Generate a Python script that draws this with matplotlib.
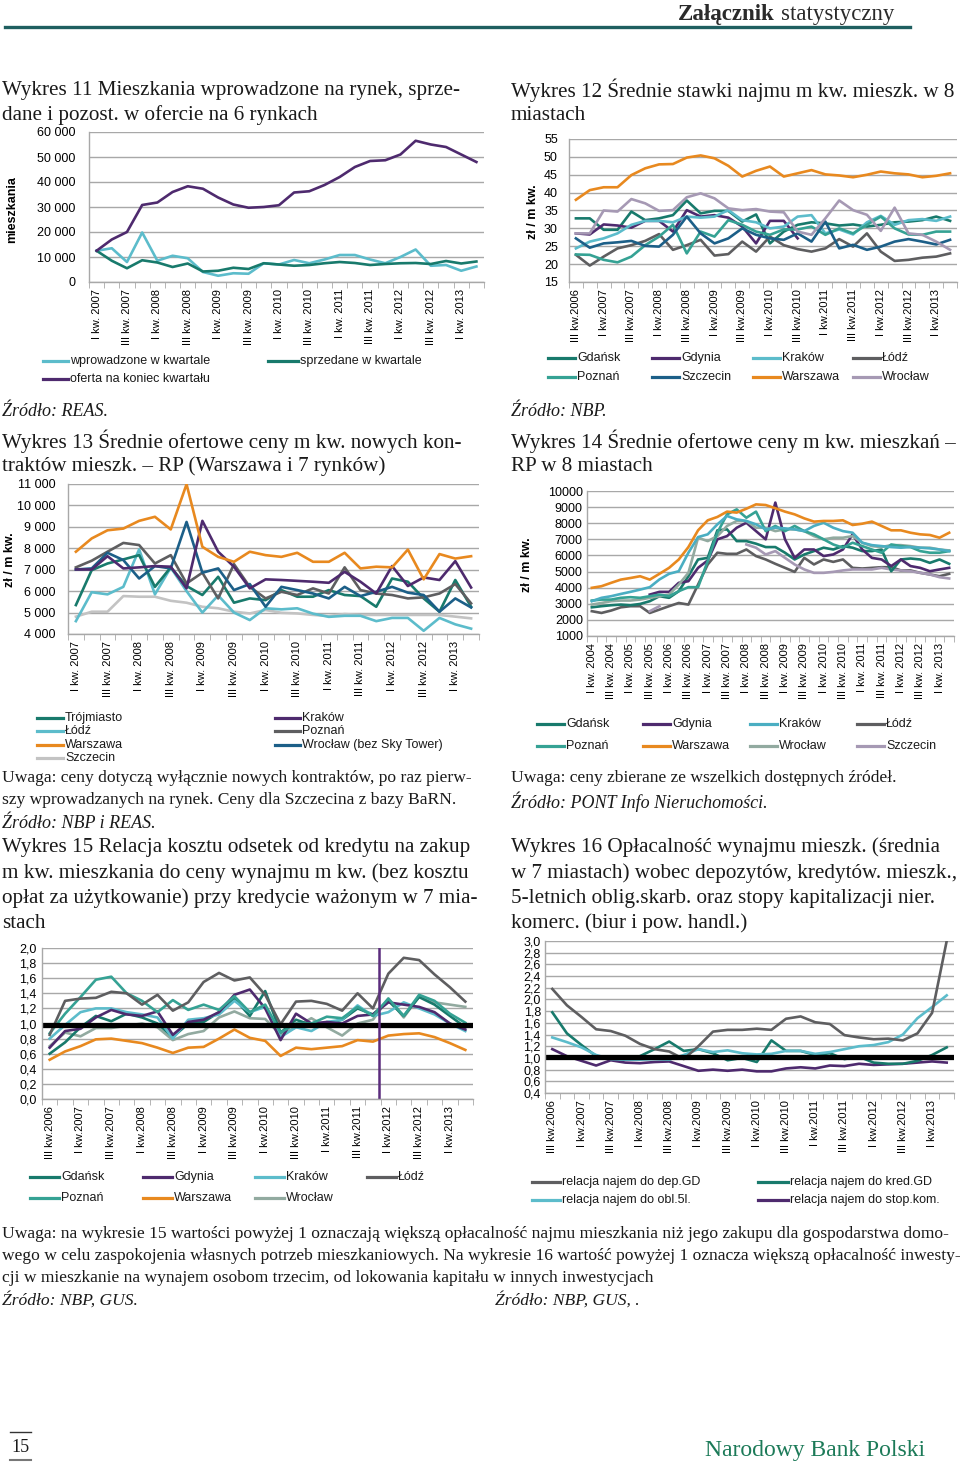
import numpy as np
import matplotlib
matplotlib.use('Agg')
import matplotlib.pyplot as plt
from matplotlib.lines import Line2D

nan = np.nan

# ---------------- Wykres 11 (I kw. 2007 - II kw. 2013) ----------------
w11_labels = ['I kw. 2007', 'III kw. 2007', 'I kw. 2008', 'III kw. 2008', 'I kw. 2009',
              'III kw. 2009', 'I kw. 2010', 'III kw. 2010', 'I kw. 2011', 'III kw. 2011',
              'I kw. 2012', 'III kw. 2012', 'I kw. 2013']
w11_wprowadzone = [12500, 13500, 8000, 19800, 8500, 10500, 9500, 4000, 2500, 3500, 3300, 7500, 7000,
                   8800, 7500, 9000, 10800, 10800, 9000, 7500, 10000, 13000, 6500, 6800, 4500, 6200]
w11_sprzedane = [12500, 8500, 5500, 8700, 7800, 6000, 7400, 4200, 4500, 5700, 5200, 7500, 7000,
                 6500, 6800, 7500, 8000, 7600, 6800, 7200, 7500, 7600, 7200, 8400, 7400, 8200]
w11_oferta = [12500, 17000, 20000, 30800, 31800, 36000, 38300, 37300, 33800, 31000, 29700, 30000, 30700,
              35800, 36300, 38800, 42000, 46000, 48400, 48700, 51000, 56500, 55000, 54000, 51000, 48000]

# ---------------- Wykres 12 (III kw. 2006 - II kw. 2013) ----------------
w12_labels = ['III kw.2006', 'I kw.2007', 'III kw.2007', 'I kw.2008', 'III kw.2008', 'I kw.2009',
              'III kw.2009', 'I kw.2010', 'III kw.2010', 'I kw.2011', 'III kw.2011', 'I kw.2012',
              'III kw.2012', 'I kw.2013']
w12_gdansk = [32.8, 32.8, 29.6, 29.6, 34.7, 32.3, 32.8, 33.7, 37.8, 34.2, 34.9, 34.9, 31.9, 33.9,
              25.8, 29.1, 31.0, 31.7, 31.4, 30.8, 31.1, 30.5, 31.0, 31.7, 31.9, 32.3, 33.3, 32.1]
w12_gdynia = [28.6, 28.3, 31.1, 30.8, 30.2, 32.1, 32.1, 29.1, 35.1, 33.3, 33.7, 33.0, 30.5, 25.8,
              32.1, 32.1, 27.2, nan, nan, nan, nan, nan, nan, nan, nan, nan, nan, nan]
w12_krakow = [24.4, 26.3, 27.2, 28.6, 31.0, 32.1, 32.1, 31.7, 33.3, 33.0, 33.3, 35.1, 32.3, 31.7,
              30.0, 30.5, 33.3, 33.7, 28.6, 29.7, 28.3, 31.7, 33.5, 31.0, 32.3, 32.6, 32.1, 33.3]
w12_lodz = [22.6, 19.6, 22.1, 24.4, 25.3, 26.5, 28.4, 24.0, 25.3, 26.8, 22.4, 22.8, 26.3, 23.5,
            27.7, 25.3, 24.2, 23.5, 24.4, 27.0, 24.9, 28.6, 23.5, 20.9, 21.2, 21.8, 22.1, 23.0]
w12_poznan = [22.7, 22.6, 21.2, 20.5, 22.1, 25.3, 27.7, 31.0, 23.0, 29.1, 27.7, 32.3, 31.0, 29.1,
              28.2, 29.7, 29.7, 30.5, 28.2, 30.0, 28.6, 31.0, 33.3, 30.0, 28.3, 28.2, 29.1, 29.1]
w12_szczecin = [27.2, 24.6, 25.8, 26.1, 26.5, 25.1, 24.9, 28.2, 33.3, 28.6, 25.8, 27.2, 30.0, 28.2,
                27.2, 26.8, 28.6, 26.3, 31.9, 24.4, 25.4, 24.0, 24.9, 26.3, 27.0, 26.3, 25.5, 26.8]
w12_warszawa = [38.0, 40.7, 41.5, 41.5, 44.9, 46.8, 47.9, 48.0, 49.8, 50.4, 49.6, 47.5, 44.5, 46.1,
                47.3, 44.5, 45.4, 46.3, 45.1, 44.8, 44.3, 45.0, 45.9, 45.4, 45.1, 44.3, 44.7, 45.4]
w12_wroclaw = [28.6, 28.6, 35.0, 34.7, 38.2, 37.0, 34.9, 35.1, 38.7, 39.8, 38.4, 35.6, 35.1, 35.4,
               34.7, 34.5, 29.1, 28.2, 32.8, 37.8, 35.1, 33.8, 29.3, 35.8, 28.6, 28.2, 26.3, 24.0]

# ---------------- Wykres 13 (I kw. 2007 - II kw. 2013) ----------------
w13_labels = w11_labels
w13_trojmiasto = [5350, 6980, 7290, 7480, 7680, 6200, 7110, 6240, 5820, 6670, 5460, 5660, 5580,
                  6050, 5740, 5740, 6050, 5820, 5770, 5270, 6590, 6440, 5660, 5040, 6520, 5270]
w13_krakow = [7010, 7010, 7630, 7060, 7110, 7170, 7140, 6130, 9280, 7840, 7140, 6130, 6550,
              6520, 6480, 6440, 6390, 6900, 6440, 5890, 7170, 6240, 6640, 6520, 7400, 6170]
w13_lodz = [4600, 5950, 5850, 6200, 7950, 5850, 7100, 6000, 5000, 5800, 5000, 4650, 5200,
            5150, 5200, 4950, 4800, 4850, 4850, 4600, 4750, 4750, 4150, 4750, 4450, 4250]
w13_poznan = [7110, 7420, 7840, 8250, 8150, 7290, 7680, 6360, 6860, 5660, 7260, 6200, 5660,
              5970, 5820, 6130, 5890, 7110, 6050, 5890, 5820, 5660, 5710, 5890, 6330, 5430]
w13_warszawa = [7840, 8460, 8840, 8920, 9280, 9470, 8880, 10990, 8070, 7600, 7370, 7840, 7680,
                7600, 7790, 7370, 7370, 7790, 7060, 7140, 7110, 7940, 6550, 7730, 7520, 7630]
w13_wroclaw = [7010, 7060, 7790, 7450, 6590, 7170, 7060, 9230, 6860, 7060, 6050, 6330, 5270,
               6200, 6050, 5890, 5660, 6200, 5770, 5970, 6200, 5930, 5820, 5040, 5660, 5240]
w13_szczecin = [4810, 5040, 5040, 5770, 5740, 5740, 5550, 5460, 5270, 5200, 5040, 4960, 5120,
                4990, 4960, 4890, 4840, 4930, 4890, 4890, 4890, 4890, 4890, 4890, 4810, 4730]

# ---------------- Wykres 14 (I kw. 2004 - II kw. 2013) ----------------
w14_labels = ['I kw. 2004', 'III kw. 2004', 'I kw. 2005', 'III kw. 2005', 'I kw. 2006', 'III kw. 2006',
              'I kw. 2007', 'III kw. 2007', 'I kw. 2008', 'III kw. 2008', 'I kw. 2009', 'III kw. 2009',
              'I kw. 2010', 'III kw. 2010', 'I kw. 2011', 'III kw. 2011', 'I kw. 2012', 'III kw. 2012',
              'I kw. 2013']
w14_gdansk = [2780, 2850, 2910, 2950, 2910, 2990, 3160, 3470, 3370, 3780, 4710, 5750, 5850, 7560, 7620,
              6890, 6890, 6730, 6520, 6520, 6170, 5750, 6060, 6270, 6480, 6370, 6580, 6480, 6270, 6270,
              6370, 5020, 5750, 5810, 5750, 5540, 5750, 5480]
w14_gdynia = [nan, nan, nan, nan, nan, nan, 3570, 3740, 3740, 4300, 4400, 5230, 5690, 7000, 7200,
              7720, 8030, 7510, 7000, 9280, 7000, 5850, 6370, 6370, 5960, 6060, 6370, 7310, 6370, 5850,
              5750, 5340, 5750, 5340, 5230, 5020, 5130, 5230]
w14_krakow = [3160, 3370, 3470, 3610, 3740, 3880, 4030, 4510, 4860, 5020, 6170, 7140, 7310, 7930, 8450,
              8240, 8140, 7930, 7620, 7720, 7680, 7620, 7510, 7830, 8030, 7720, 7510, 7410, 6790, 6640,
              6580, 6520, 6480, 6520, 6480, 6440, 6370, 6270]
w14_lodz = [2540, 2430, 2580, 2780, 2850, 2850, 2430, 2640, 2850, 3050, 2950, 4190, 5440, 6170, 6100,
            6100, 6370, 5960, 5750, 5480, 5230, 4980, 5850, 5440, 5750, 5600, 5750, 5230, 5190, 5230,
            5270, 5270, 5070, 5070, 4920, 4820, 4710, 4860]
w14_poznan = [3200, 3260, 3260, 3370, 3410, 3370, 3470, 3570, 3470, 3780, 4030, 4030, 5650, 7410, 8550,
              8860, 8340, 8720, 7510, 7830, 7510, 7830, 7510, 7310, 7000, 6680, 6480, 6790, 6580, 6370,
              6170, 6680, 6580, 6520, 6270, 6170, 6170, 6270]
w14_warszawa = [3990, 4090, 4300, 4500, 4600, 4710, 4500, 4860, 5230, 5750, 6520, 7560, 8180, 8390, 8720,
                8660, 8900, 9170, 9130, 8930, 8720, 8550, 8300, 8100, 8140, 8140, 8180, 7890, 7970, 8100,
                7830, 7560, 7560, 7410, 7310, 7270, 7100, 7410]
w14_wroclaw = [2950, 3050, 3160, 3200, 3200, 3260, 3370, 3470, 3570, 4190, 4920, 7100, 6890, 7200, 7830,
               8140, 8140, 7720, 7720, 7510, 7620, 7620, 7510, 7200, 7000, 7100, 7100, 7200, 6790, 6580,
               6520, 6640, 6640, 6580, 6480, 6480, 6370, 6310]
w14_szczecin = [nan, nan, nan, nan, nan, nan, 2540, 2850, nan, nan, nan, nan, nan, nan, nan, nan,
                6680, 6480, 6060, 6270, 5850, 5440, 5130, 4920, 4920, 4980, 5070, 5130, 5130, 5130,
                5230, 5130, 5070, 5020, 4920, 4820, 4650, 4570]

# ---------------- Wykres 15 (III kw. 2006 - II kw. 2013) ----------------
w15_labels = w12_labels
w15_gdansk = [0.60, 0.75, 0.95, 1.10, 1.03, 1.13, 1.08, 1.00, 0.82, 1.00, 1.02, 1.15, 1.33, 1.10,
              1.43, 0.88, 1.05, 0.98, 1.00, 1.05, 1.20, 1.12, 1.30, 1.10, 1.35, 1.25, 1.10, 0.95]
w15_gdynia = [0.68, 0.90, 0.93, 1.08, 1.18, 1.12, 1.10, 1.16, 0.85, 1.02, 1.05, 1.15, 1.38, 1.45,
              1.20, 0.78, 1.13, 1.00, 1.02, 1.00, 1.10, 1.12, 1.28, 1.25, 1.22, 1.15, 1.00, 0.92]
w15_krakow = [0.80, 0.98, 1.15, 1.20, 1.20, 1.15, 1.12, 1.08, 0.80, 1.05, 1.07, 1.12, 1.30, 1.15,
              1.22, 0.82, 0.95, 0.90, 1.02, 1.05, 1.24, 1.10, 1.15, 1.28, 1.20, 1.12, 1.00, 0.90]
w15_lodz = [0.85, 1.30, 1.33, 1.34, 1.42, 1.40, 1.25, 1.38, 1.17, 1.28, 1.55, 1.67, 1.57, 1.61,
            1.38, 0.99, 1.29, 1.30, 1.26, 1.17, 1.40, 1.20, 1.66, 1.87, 1.84, 1.65, 1.48, 1.29]
w15_poznan = [0.87, 1.13, 1.35, 1.58, 1.62, 1.40, 1.30, 1.15, 1.31, 1.18, 1.25, 1.18, 1.36, 1.15,
              1.25, 0.88, 1.00, 1.00, 1.09, 1.07, 1.22, 1.10, 1.33, 1.10, 1.38, 1.30, 1.13, 1.01]
w15_warszawa = [0.52, 0.63, 0.70, 0.79, 0.80, 0.77, 0.74, 0.68, 0.61, 0.68, 0.69, 0.80, 0.92, 0.81,
                0.77, 0.57, 0.68, 0.66, 0.68, 0.70, 0.78, 0.76, 0.84, 0.86, 0.87, 0.82, 0.74, 0.65]
w15_wroclaw = [0.70, 0.88, 0.83, 0.94, 0.94, 0.97, 1.00, 0.95, 0.78, 0.86, 0.90, 1.08, 1.16, 1.07,
               1.06, 0.85, 0.95, 1.07, 0.95, 0.84, 1.00, 1.05, 1.33, 1.08, 1.36, 1.28, 1.25, 1.22]
w15_prog = 0.98
w15_zmiana = 21.4

# ---------------- Wykres 16 (III kw. 2006 - II kw. 2013) ----------------
w16_labels = w12_labels
w16_dep = [2.18, 1.90, 1.70, 1.49, 1.46, 1.38, 1.24, 1.15, 1.11, 0.98, 1.20, 1.45, 1.48, 1.48,
           1.50, 1.48, 1.67, 1.71, 1.61, 1.58, 1.39, 1.35, 1.32, 1.33, 1.30, 1.42, 1.77, 3.00]
w16_kred = [1.78, 1.42, 1.22, 1.03, 1.01, 0.97, 1.03, 1.15, 1.28, 1.12, 1.15, 1.08, 0.96, 1.00,
            0.93, 1.30, 1.12, 1.12, 1.05, 1.08, 0.98, 1.02, 0.92, 0.90, 0.90, 0.95, 1.05, 1.18]
w16_obl = [1.35, 1.27, 1.18, 1.05, 0.98, 0.97, 0.97, 0.98, 0.97, 1.05, 1.15, 1.10, 1.13, 1.08,
           1.06, 1.07, 1.12, 1.12, 1.07, 1.10, 1.15, 1.20, 1.22, 1.27, 1.40, 1.68, 1.87, 2.07]
w16_stop = [1.15, 1.03, 0.95, 0.87, 0.96, 0.92, 0.91, 0.93, 0.94, 0.86, 0.78, 0.80, 0.78, 0.80,
            0.77, 0.77, 0.82, 0.84, 0.82, 0.87, 0.86, 0.90, 0.88, 0.89, 0.90, 0.92, 0.94, 0.92]
w16_prog = 1.02

# colours
C_TEAL = '#187a6c'
C_CYAN = '#5cbccb'
C_PURPLE = '#4e2a6e'
C_DGREY = '#5e5e60'
C_POZ = '#35a294'
C_BLUE = '#1c5f88'
C_ORANGE = '#e8891f'
C_LAV = '#a699b4'
C_GGREEN = '#92aaa0'
C_KRK14 = '#4aaec2'
C_LGREY = '#c3c3c3'
C_GRID = '#a8a8a8'

SANS = ['Liberation Sans', 'DejaVu Sans']
SERIF = ['Liberation Serif', 'DejaVu Serif']

W, H = 960, 1463
fig = plt.figure(figsize=(W / 100, H / 100), dpi=100)

TITLE = 15.2
NOTE = 12.6


def fx(x):
    return x / W


def fy(y):
    return 1 - y / H


def axes_px(x0, y0, x1, y1):
    return fig.add_axes([x0 / W, 1 - y1 / H, (x1 - x0) / W, (y1 - y0) / H])


def style(ax, n, ylim, yticks, yfmt, labels, ypad=8):
    ax.set_xlim(-0.5, n - 0.5)
    ax.set_ylim(*ylim)
    ax.set_yticks(yticks)
    ax.set_yticklabels([yfmt(v) for v in yticks], fontsize=9, family=SANS)
    ax.yaxis.grid(True, color=C_GRID, lw=1.0)
    ax.set_axisbelow(True)
    for s in ['top', 'right']:
        ax.spines[s].set_visible(False)
    for s in ['left', 'bottom']:
        ax.spines[s].set_color(C_GRID)
        ax.spines[s].set_linewidth(1.0)
    ax.set_xticks(np.arange(0, 2 * len(labels), 2))
    ax.set_xticklabels(labels, rotation=90, fontsize=8, family=SANS)
    ax.set_xticks(np.arange(-0.5, n, 1), minor=True)
    ax.tick_params(axis='x', which='major', length=0, pad=5)
    ax.tick_params(axis='x', which='minor', length=4, color=C_GRID)
    ax.tick_params(axis='y', length=0, pad=ypad)
    ax.set_facecolor('none')


def thousands(v):
    return f'{int(v):,}'.replace(',', ' ')


def comma1(v):
    return f'{v:.1f}'.replace('.', ',')


def key(x0, x1, y, color, label):
    fig.add_artist(Line2D([fx(x0), fx(x1)], [fy(y), fy(y)], color=color, lw=2.3,
                          transform=fig.transFigure))
    fig.text(fx(x1 + 2), fy(y), label, fontsize=9, family=SANS, va='center', ha='left',
             color='#1a1a1a')


def ptext(x, y, s, size=TITLE, **kw):
    kw.setdefault('color', '#1a1a1a')
    fig.text(fx(x), fy(y), s, fontsize=size, family=SERIF, va='center_baseline', **kw)


LW = 1.9

# ---- header ----
ptext(775, 12, 'Załącznik', 16.5, weight='bold', ha='right', color='#2a2a2a')
ptext(781, 12, 'statystyczny', 16.5, ha='left', color='#2a2a2a')
fig.add_artist(Line2D([fx(5), fx(910)], [fy(27), fy(27)], color='#1f5f60', lw=2.4,
                      transform=fig.transFigure))

# ---- Wykres 11 ----
ptext(2, 88, 'Wykres 11 Mieszkania wprowadzone na rynek, sprze-')
ptext(2, 113, 'dane i pozost. w ofercie na 6 rynkach')
ax = axes_px(89, 132, 484, 282)
x = np.arange(len(w11_oferta))
ax.plot(x, w11_wprowadzone, color=C_CYAN, lw=LW)
ax.plot(x, w11_sprzedane, color=C_TEAL, lw=LW)
ax.plot(x, w11_oferta, color=C_PURPLE, lw=LW)
style(ax, len(x), (0, 60000), np.arange(0, 60001, 10000), thousands, w11_labels, ypad=10)
fig.text(fx(12), fy(210), 'mieszkania', rotation=90, fontsize=9, weight='bold', family=SANS,
         ha='center', va='center')
key(43, 68, 361, C_CYAN, 'wprowadzone w kwartale')
key(268, 298, 361, C_TEAL, 'sprzedane w kwartale')
key(43, 68, 379, C_PURPLE, 'oferta na koniec kwartału')
ptext(2, 410, 'Źródło: REAS.', 13, style='italic')

# ---- Wykres 12 ----
ptext(511, 88, 'Wykres 12 Średnie stawki najmu m kw. mieszk. w 8')
ptext(511, 113, 'miastach')
ax = axes_px(569, 139, 957, 282)
x = np.arange(len(w12_warszawa))
for vals, col in [(w12_gdansk, C_TEAL), (w12_gdynia, C_PURPLE), (w12_krakow, C_CYAN),
                  (w12_lodz, C_DGREY), (w12_poznan, C_POZ), (w12_szczecin, C_BLUE),
                  (w12_warszawa, C_ORANGE), (w12_wroclaw, C_LAV)]:
    ax.plot(x, vals, color=col, lw=LW)
style(ax, len(x), (15, 55), np.arange(15, 56, 5), lambda v: f'{int(v)}', w12_labels, ypad=8)
fig.text(fx(533), fy(212), 'zł / m kw.', rotation=90, fontsize=9, weight='bold', family=SANS,
         ha='center', va='center')
for (lab, col), (x0, y0) in zip([('Gdańsk', C_TEAL), ('Gdynia', C_PURPLE), ('Kraków', C_CYAN),
                                  ('Łódź', C_DGREY), ('Poznań', C_POZ), ('Szczecin', C_BLUE),
                                  ('Warszawa', C_ORANGE), ('Wrocław', C_LAV)],
                                 [(548, 358), (652, 358), (753, 358), (853, 358),
                                  (548, 377), (652, 377), (753, 377), (853, 377)]):
    key(x0, x0 + 27, y0, col, lab)
ptext(511, 410, 'Źródło: NBP.', 13, style='italic')

# ---- Wykres 13 ----
ptext(2, 439, 'Wykres 13 Średnie ofertowe ceny m kw. nowych kon-')
ptext(2, 464, 'traktów mieszk. – RP (Warszawa i 7 rynków)')
ax = axes_px(68, 484, 479, 634)
x = np.arange(len(w13_warszawa))
for vals, col in [(w13_szczecin, C_LGREY), (w13_lodz, C_CYAN), (w13_trojmiasto, C_TEAL),
                  (w13_poznan, C_DGREY), (w13_wroclaw, C_BLUE), (w13_krakow, C_PURPLE),
                  (w13_warszawa, C_ORANGE)]:
    ax.plot(x, vals, color=col, lw=LW)
style(ax, len(x), (4000, 11000), np.arange(4000, 11001, 1000), thousands, w13_labels, ypad=9)
fig.text(fx(10), fy(560), 'zł / m kw.', rotation=90, fontsize=9, weight='bold', family=SANS,
         ha='center', va='center')
for lab, col, y0 in [('Trójmiasto', C_TEAL, 718), ('Łódź', C_CYAN, 731),
                     ('Warszawa', C_ORANGE, 745), ('Szczecin', C_LGREY, 758)]:
    key(37, 63, y0, col, lab)
for lab, col, y0 in [('Kraków', C_PURPLE, 718), ('Poznań', C_DGREY, 731),
                     ('Wrocław (bez Sky Tower)', C_BLUE, 745)]:
    key(275, 300, y0, col, lab)
ptext(2, 776, 'Uwaga: ceny dotyczą wyłącznie nowych kontraktów, po raz pierw-', NOTE)
ptext(2, 798, 'szy wprowadzanych na rynek. Ceny dla Szczecina z bazy BaRN.', NOTE)
ptext(2, 821, 'Źródło: NBP i REAS.', 13, style='italic')

# ---- Wykres 14 ----
ptext(511, 439, 'Wykres 14 Średnie ofertowe ceny m kw. mieszkań –')
ptext(511, 464, 'RP w 8 miastach')
ax = axes_px(587, 491, 954, 636)
x = np.arange(len(w14_warszawa))
for vals, col in [(w14_lodz, C_DGREY), (w14_szczecin, C_LAV), (w14_gdansk, C_TEAL),
                  (w14_gdynia, C_PURPLE), (w14_wroclaw, C_GGREEN), (w14_poznan, C_POZ),
                  (w14_krakow, C_KRK14), (w14_warszawa, C_ORANGE)]:
    ax.plot(x, vals, color=col, lw=LW)
style(ax, len(x), (1000, 10000), np.arange(1000, 10001, 1000), lambda v: f'{int(v)}', w14_labels,
      ypad=3)
fig.text(fx(527), fy(565), 'zł / m kw.', rotation=90, fontsize=9, weight='bold', family=SANS,
         ha='center', va='center')
for (lab, col), (x0, y0) in zip([('Gdańsk', C_TEAL), ('Gdynia', C_PURPLE), ('Kraków', C_KRK14),
                                  ('Łódź', C_DGREY), ('Poznań', C_POZ), ('Warszawa', C_ORANGE),
                                  ('Wrocław', C_GGREEN), ('Szczecin', C_LAV)],
                                 [(537, 724), (643, 724), (750, 724), (857, 724),
                                  (537, 746), (643, 746), (750, 746), (857, 746)]):
    key(x0, x0 + 27, y0, col, lab)
ptext(511, 776, 'Uwaga: ceny zbierane ze wszelkich dostępnych źródeł.', NOTE)
ptext(511, 800, 'Źródło: PONT Info Nieruchomości.', 13, style='italic')

# ---- Wykres 15 ----
for i, line in enumerate(['Wykres 15 Relacja kosztu odsetek od kredytu na zakup',
                          'm kw. mieszkania do ceny wynajmu m kw. (bez kosztu',
                          'opłat za użytkowanie) przy kredycie ważonym w 7 mia-',
                          'stach']):
    ptext(2, 845 + 25.3 * i, line)
ax = axes_px(42, 948, 473, 1099)
x = np.arange(len(w15_lodz))
for vals, col in [(w15_warszawa, C_ORANGE), (w15_wroclaw, C_GGREEN), (w15_gdansk, C_TEAL),
                  (w15_krakow, C_CYAN), (w15_gdynia, C_PURPLE), (w15_poznan, C_POZ),
                  (w15_lodz, C_DGREY)]:
    ax.plot(x, vals, color=col, lw=LW)
ax.axhline(w15_prog, color='black', lw=3.8)
ax.axvline(w15_zmiana, color='#5b2c7d', lw=1.8)
style(ax, len(x), (0, 2.0), np.arange(0, 2.01, 0.2), comma1, w15_labels, ypad=4)
for (lab, col), (x0, y0) in zip([('Gdańsk', C_TEAL), ('Gdynia', C_PURPLE), ('Kraków', C_CYAN),
                                  ('Łódź', C_DGREY), ('Poznań', C_POZ), ('Warszawa', C_ORANGE),
                                  ('Wrocław', C_GGREEN)],
                                 [(30, 1177), (143, 1177), (255, 1177), (367, 1177),
                                  (30, 1198), (143, 1198), (255, 1198)]):
    key(x0, x0 + 29, y0, col, lab)

# ---- Wykres 16 ----
for i, line in enumerate(['Wykres 16 Opłacalność wynajmu mieszk. (średnia',
                          'w 7 miastach) wobec depozytów, kredytów. mieszk.,',
                          '5-letnich oblig.skarb. oraz stopy kapitalizacji nier.',
                          'komerc. (biur i pow. handl.)']):
    ptext(511, 845 + 25.3 * i, line)
ax = axes_px(545, 941, 954, 1093)
x = np.arange(len(w16_dep))
for vals, col in [(w16_stop, C_PURPLE), (w16_kred, C_TEAL), (w16_obl, C_CYAN), (w16_dep, C_DGREY)]:
    ax.plot(x, vals, color=col, lw=LW)
ax.axhline(w16_prog, color='black', lw=3.8)
style(ax, len(x), (0.4, 3.0), np.arange(0.4, 3.01, 0.2), comma1, w16_labels, ypad=3)
key(532, 560, 1182, C_DGREY, 'relacja najem do dep.GD')
key(758, 788, 1182, C_TEAL, 'relacja najem do kred.GD')
key(532, 560, 1200, C_CYAN, 'relacja najem do obl.5l.')
key(758, 788, 1200, C_PURPLE, 'relacja najem do stop.kom.')

# ---- bottom notes ----
ptext(2, 1232, 'Uwaga: na wykresie 15 wartości powyżej 1 oznaczają większą opłacalność najmu mieszkania '
      'niż jego zakupu dla gospodarstwa domo-', NOTE)
ptext(2, 1254, 'wego w celu zaspokojenia własnych potrzeb mieszkaniowych. Na wykresie 16 wartość powyżej 1 '
      'oznacza większą opłacalność inwesty-', NOTE)
ptext(2, 1276, 'cji w mieszkanie na wynajem osobom trzecim, od lokowania kapitału w innych inwestycjach', NOTE)
ptext(2, 1298, 'Źródło: NBP, GUS.', NOTE, style='italic')
ptext(495, 1298, 'Źródło: NBP, GUS, .', NOTE, style='italic')

# ---- footer ----
fig.add_artist(Line2D([fx(10), fx(31)], [fy(1432), fy(1432)], color='#333333', lw=1.0,
                      transform=fig.transFigure))
fig.add_artist(Line2D([fx(10), fx(31)], [fy(1460), fy(1460)], color='#777777', lw=1.5,
                      transform=fig.transFigure))
ptext(20, 1446, '15', 13, ha='center')
ptext(925, 1448, 'Narodowy Bank Polski', 17, ha='right', color='#1c7a58')

fig.savefig('out.png', dpi=100, facecolor='white')
